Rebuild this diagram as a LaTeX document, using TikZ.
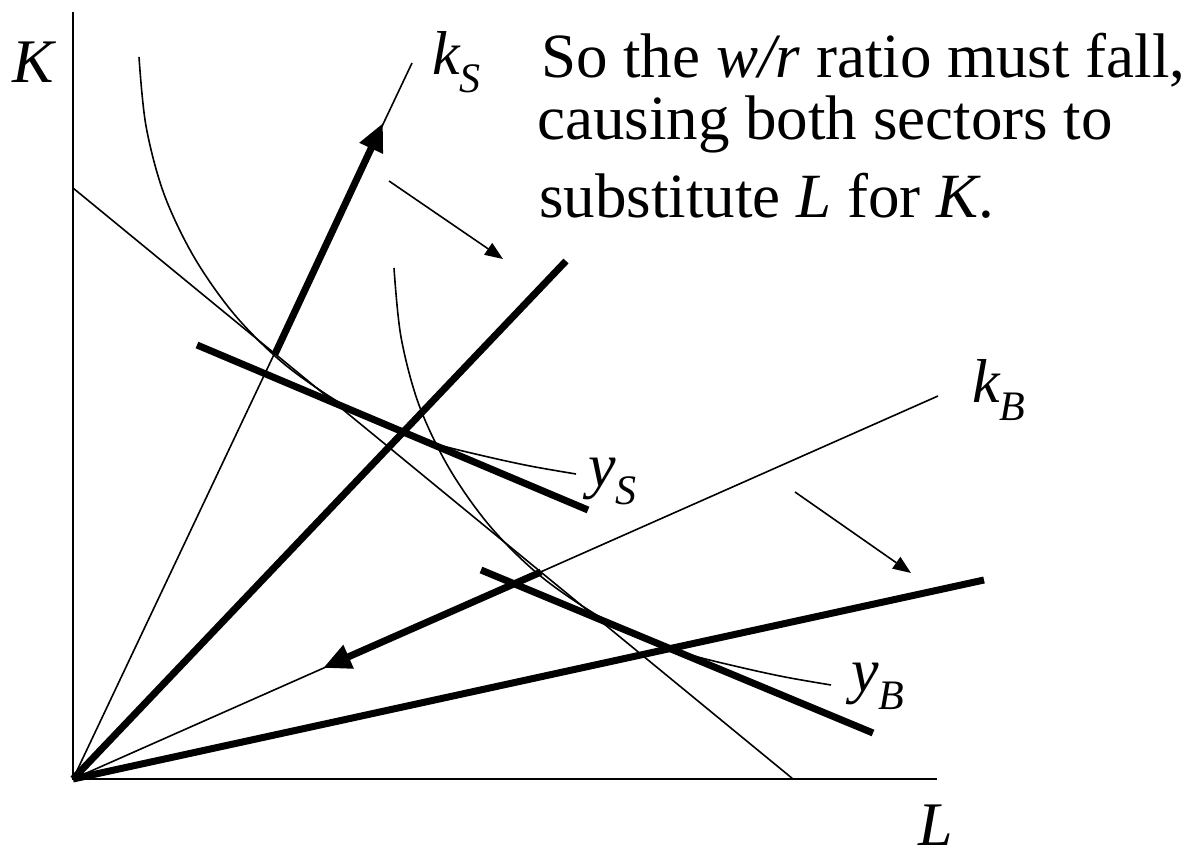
\documentclass[tikz,border=0pt]{standalone}
\usepackage{fontspec}
\setmainfont{Liberation Serif}
\usetikzlibrary{arrows.meta}
\newcommand\mysub[1]{\raisebox{-18pt}{\fontsize{42}{42}\selectfont\itshape #1}}
\begin{document}
\begin{tikzpicture}[x=1pt,y=-1pt,
  thinline/.style={line width=1.6pt},
  thickline/.style={line width=7pt},
  axisline/.style={line width=2pt},
  isoquant/.style={line width=1.6pt},
  bigarrow/.style={line width=7pt,-{Triangle[length=28pt,width=24pt]}},
  smallarrow/.style={line width=1.6pt,-{Triangle[length=18pt,width=14pt]}},
  lbl/.style={inner sep=0pt,anchor=base west,font=\fontsize{62}{62}\selectfont},
  txt/.style={inner sep=0pt,anchor=base west,font=\fontsize{63}{63}\selectfont}]
\useasboundingbox (0,0) rectangle (1200,853);
% coordinates
\coordinate (O) at (73,779);
\coordinate (Ytop) at (73,12);
\coordinate (Xend) at (937,779);
\coordinate (BL1) at (73,188);
\coordinate (BL2) at (793,779);
\coordinate (kSend) at (412,63);
\coordinate (kSa) at (275,354);
\coordinate (kSb) at (383,123);
\coordinate (kSnew) at (566,261);
\coordinate (kBend) at (938,396);
\coordinate (kBa) at (541,572);
\coordinate (kBb) at (323,668);
\coordinate (kBnew) at (984,580);
\coordinate (ySt1) at (197,345);
\coordinate (ySt2) at (588,510);
\coordinate (yBt1) at (481,570);
\coordinate (yBt2) at (873,733);
\coordinate (a1s) at (389,181);
\coordinate (a1e) at (503,259);
\coordinate (a2s) at (795,492);
\coordinate (a2e) at (911,573);
% axes
\draw[axisline] (Ytop) -- (O) -- (Xend);
% budget line
\draw[thinline] (BL1) -- (BL2);
% rays
\draw[thinline] (O) -- (kSend);
\draw[thinline] (O) -- (kBend);
\draw[thickline] (O) -- (kSnew);
\draw[thickline] (O) -- (kBnew);
% isoquants (same shape, y_B shifted)
\draw[isoquant] plot[smooth,tension=0.55] coordinates {(139,57) (146,126) (164,194) (194,257) (234,314) (283,363) (340,403) (390,428) (436,444) (484,456) (530,466) (576,474)};
\draw[isoquant,shift={(255,211)}] plot[smooth,tension=0.55] coordinates {(139,57) (146,126) (164,194) (194,257) (234,314) (283,363) (340,403) (390,428) (436,444) (484,456) (530,466) (576,474)};
% tangent lines
\draw[thickline] (ySt1) -- (ySt2);
\draw[thickline] (yBt1) -- (yBt2);
% arrows
\draw[bigarrow] (kSa) -- (kSb);
\draw[bigarrow] (kBa) -- (kBb);
\draw[smallarrow] (a1s) -- (a1e);
\draw[smallarrow] (a2s) -- (a2e);
% labels
\node[lbl] (labK) at (12,83) {\itshape K};
\node[lbl] (labL) at (918,845) {\itshape L};
\node[lbl] (labkS) at (432,75) {\itshape k\mysub{S}};
\node[lbl] (labkB) at (972,402) {\itshape k\mysub{B}};
\node[lbl] (labyS) at (588,486) {\itshape y\mysub{S}};
\node[lbl] (labyB) at (851,691) {\itshape y\mysub{B}};
\node[txt] (t1) at (541,78) {So the \textit{w/r} ratio must fall,};
\node[txt] (t2) at (537,140) {causing both sectors to};
\node[txt] (t3) at (539,218) {substitute \textit{L} for \textit{K}.};
\end{tikzpicture}
\end{document}
